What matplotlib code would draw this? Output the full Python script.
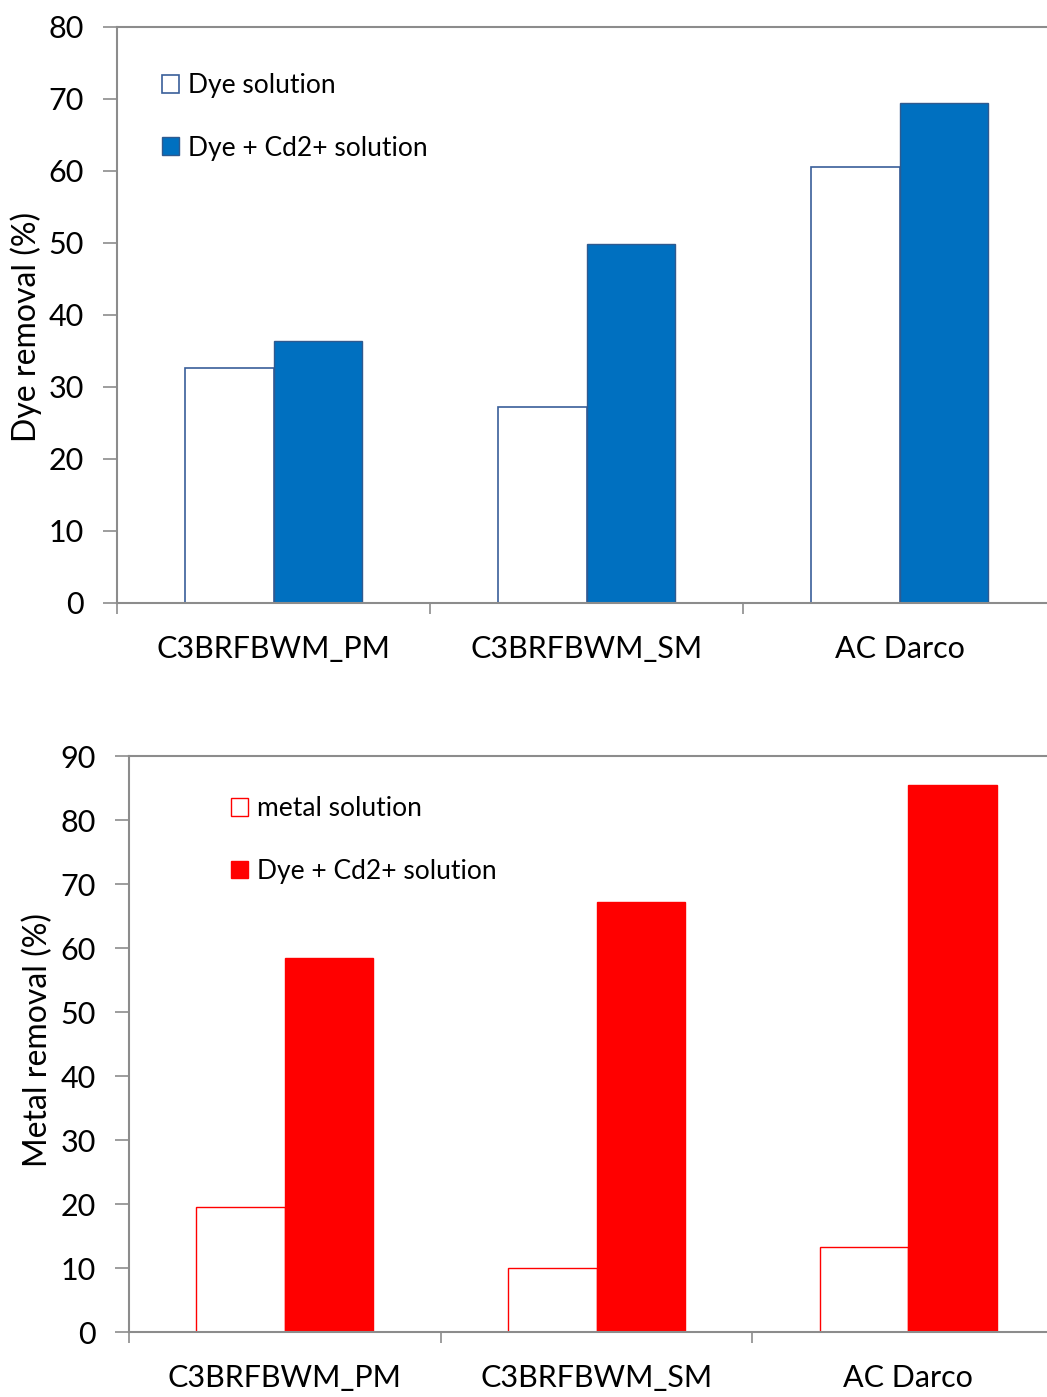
import matplotlib
matplotlib.use("Agg")
import matplotlib.pyplot as plt
import numpy as np

categories = ["C3BRFBWM_PM", "C3BRFBWM_SM", "AC Darco"]
dye_solution = [32.6, 27.2, 60.6]
dye_cd_solution_top = [36.4, 49.9, 69.4]
metal_solution = [19.5, 10.0, 13.3]
dye_cd_solution_bottom = [58.4, 67.2, 85.5]

plt.rcParams['font.family'] = ['Lato', 'DejaVu Sans']

W, H = 1047, 1397
fig = plt.figure(figsize=(W / 100, H / 100), dpi=100)

grey = "#8c8c8c"
bw = 0.284
x = np.arange(len(categories))


def style(ax, ymax, step, ylabel, label_xy):
    ax.set_xlim(-0.5, 2.5)
    ax.set_ylim(0, ymax)
    ax.set_yticks(np.arange(0, ymax + 1, step))
    ax.set_xticks(x)
    ax.set_xticklabels(categories)
    ax.set_xticks([-0.5, 0.5, 1.5, 2.5], minor=True)
    ax.tick_params(axis='x', which='major', length=0, pad=23, labelsize=22)
    ax.tick_params(axis='x', which='minor', length=8, width=1.2, color=grey)
    ax.tick_params(axis='y', length=10, width=1.2, color=grey, labelsize=22, pad=14)
    for s in ['top', 'right']:
        ax.spines[s].set_visible(False)
    for s in ['left', 'bottom']:
        ax.spines[s].set_color(grey)
        ax.spines[s].set_linewidth(1.5)
    ax.axhline(ymax, color=grey, lw=1.5, clip_on=False)
    ax.set_ylabel(ylabel, fontsize=23)
    ax.yaxis.set_label_coords(*label_xy)


legend_kw = dict(loc='upper left', frameon=False, fontsize=19, borderaxespad=0, borderpad=0,
                 handlelength=0.65, handleheight=0.65, handletextpad=0.35, labelspacing=1.42)

# Top chart
ax1 = fig.add_axes([117 / W, 794 / H, 939 / W, 576 / H])
ax1.bar(x - bw / 2, dye_solution, bw, color='white', edgecolor='#3a5f9a', lw=1.2,
        label='Dye solution')
ax1.bar(x + bw / 2, dye_cd_solution_top, bw, color='#0070c0', edgecolor='#2f5a8f', lw=1.0,
        label='Dye + Cd2+ solution')
style(ax1, 80, 10, 'Dye removal (%)', (-0.080, 0.48))
ax1.legend(bbox_to_anchor=(0.048, 0.92), **legend_kw)

# Bottom chart
ax2 = fig.add_axes([129 / W, 65 / H, 935 / W, 576 / H])
ax2.bar(x - bw / 2, metal_solution, bw, color='white', edgecolor='#ff0000', lw=1.0,
        label='metal solution')
ax2.bar(x + bw / 2, dye_cd_solution_bottom, bw, color='#ff0000', edgecolor='#ff0000', lw=1.0,
        label='Dye + Cd2+ solution')
style(ax2, 90, 10, 'Metal removal (%)', (-0.081, 0.507))
ax2.legend(bbox_to_anchor=(0.109, 0.93), **legend_kw)

fig.savefig("out.png", dpi=100)
